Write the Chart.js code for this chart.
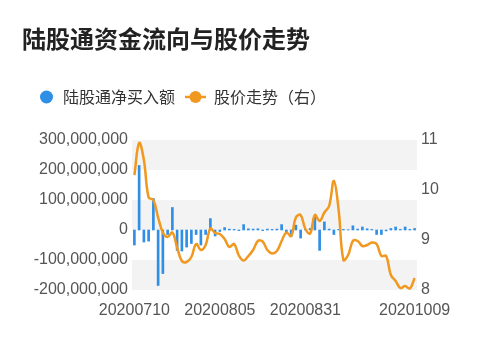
<!DOCTYPE html>
<html>
<head>
<meta charset="utf-8">
<script src="https://cdn.jsdelivr.net/npm/chart.js@4/dist/chart.umd.min.js"></script>
<style>
html,body{margin:0;padding:0;background:#fff;}
#wrap{width:500px;height:353px;position:relative;}
</style>
</head>
<body>
<div id="wrap"><canvas id="c" width="500" height="353"></canvas></div>
<script>
const categories = [
 '20200710','20200713','20200714','20200715','20200716','20200717','20200720','20200721','20200722','20200723','20200724','20200727','20200728','20200729','20200730','20200731',
 '20200803','20200804','20200805','20200806','20200807','20200810','20200811','20200812','20200813','20200814','20200817','20200818','20200819','20200820','20200821','20200824','20200825','20200826','20200827','20200828','20200831',
 '20200901','20200902','20200903','20200904','20200907','20200908','20200909','20200910','20200911','20200914','20200915','20200916','20200917','20200918','20200921','20200922','20200923','20200924','20200925','20200928','20200929','20200930',
 '20201009'
];
const tickLabels = ['20200710','20200805','20200831','20201009'];
const netBuy = [
 -50e6, 215e6, -40e6, -37e6, 105e6, -185e6, -145e6, -15e6, 75e6, -68e6,
 -70e6, -57e6, -45e6, -15e6, -50e6, -15e6, 38e6, -20e6, -5e6, 8e6,
 3e6, 2e6, -2e6, 18e6, 4e6, 3e6, 4e6, -2e6, 3e6, 2e6,
 3e6, 18e6, -12e6, -22e6, 16e6, -27e6, 2e6, 5e6, 45e6, -68e6,
 27e6, 3e6, -15e6, 2e6, 2e6, 1e6, 14e6, 3e6, 10e6, 4e6,
 2e6, -15e6, -15e6, -3e6, 5e6, 10e6, 2e6, 10e6, 2e6, 5e6
];
const price = [
 10.3, 10.94, 10.6, 9.85, 9.8, 9.45, 9.15, 9.06, 9.15, 8.85,
 8.58, 8.56, 8.66, 8.92, 8.8, 8.9, 9.23, 9.14, 9.12, 9.02,
 8.86, 8.92, 8.69, 8.59, 8.68, 8.8, 8.98, 8.97, 8.8, 8.73,
 8.78, 8.98, 9.15, 9.08, 9.45, 9.5, 9.22, 9.13, 9.5, 9.38,
 9.55, 9.68, 10.18, 9.6, 8.6, 8.7, 8.98, 8.98, 8.88, 8.9,
 8.95, 8.92, 8.68, 8.68, 8.3, 8.18, 8.04, 8.08, 8.03, 8.24
];
const leftTicks = [-200e6, -100e6, 0, 100e6, 200e6, 300e6];
const rightTicks = [8, 9, 10, 11];
const seriesNames = ['陆股通净买入额', '股价走势（右）'];
const titleText = '陆股通资金流向与股价走势';

const BLUE = '#2f8ee6';
const ORANGE = '#f0981f';
const CJK = '"Noto Sans CJK SC", "Noto Sans", sans-serif';
const NUM = '"Liberation Sans", Arial, sans-serif';

const bandPlugin = {
  id: 'bands',
  beforeDatasetsDraw(chart) {
    const y = chart.scales.y, area = chart.chartArea, ctx = chart.ctx;
    const vals = leftTicks.slice().sort((a,b)=>b-a);
    ctx.save();
    ctx.fillStyle = '#f3f3f3';
    for (let i = 0; i < vals.length - 1; i += 2) {
      const y1 = y.getPixelForValue(vals[i]);
      const y2 = y.getPixelForValue(vals[i+1]);
      ctx.fillRect(area.left, y1, area.right - area.left, y2 - y1);
    }
    ctx.restore();
  }
};

const legendPlugin = {
  id: 'customLegend',
  afterDraw(chart) {
    const ctx = chart.ctx;
    const cy = 97;
    ctx.save();
    ctx.font = '16px ' + CJK;
    ctx.textBaseline = 'middle';
    ctx.fillStyle = '#333';
    let x = 40;
    ctx.beginPath();
    ctx.fillStyle = BLUE;
    ctx.arc(x + 6.5, cy, 6.5, 0, Math.PI * 2);
    ctx.fill();
    x += 23;
    ctx.fillStyle = '#333';
    ctx.fillText(seriesNames[0], x, cy);
    x += ctx.measureText(seriesNames[0]).width + 10;
    ctx.strokeStyle = ORANGE;
    ctx.lineWidth = 2.5;
    ctx.beginPath();
    ctx.moveTo(x, cy); ctx.lineTo(x + 21, cy); ctx.stroke();
    ctx.beginPath();
    ctx.fillStyle = ORANGE;
    ctx.arc(x + 10.5, cy, 6, 0, Math.PI * 2);
    ctx.fill();
    x += 29;
    ctx.fillStyle = '#333';
    ctx.fillText(seriesNames[1], x, cy);
    ctx.restore();
  }
};

new Chart(document.getElementById('c'), {
  data: {
    labels: categories,
    datasets: [
      {
        type: 'line', label: seriesNames[1], data: price, yAxisID: 'y1',
        borderColor: ORANGE, backgroundColor: ORANGE, borderWidth: 2.5,
        pointRadius: 0, tension: 0.4, order: 0
      },
      {
        type: 'bar', label: seriesNames[0], data: netBuy, yAxisID: 'y',
        backgroundColor: BLUE, barThickness: 2, order: 1
      }
    ]
  },
  options: {
    responsive: false,
    animation: false,
    devicePixelRatio: 1,
    layout: { padding: { left: 22, right: 0, top: 0, bottom: 0 } },
    plugins: {
      legend: { display: false },
      tooltip: { enabled: false },
      title: {
        display: true, text: titleText, align: 'start', color: '#222',
        font: { family: CJK, size: 24, weight: 'bold' },
        padding: { top: 24, bottom: 87.2 }
      }
    },
    scales: {
      x: {
        grid: { display: false, drawTicks: false },
        border: { display: false },
        ticks: {
          autoSkip: false, maxRotation: 0, minRotation: 0, padding: 11,
          color: '#555', font: { family: NUM, size: 16 },
          callback(v, i) { const l = categories[i]; return tickLabels.includes(l) ? l : null; }
        },
        afterFit(s) { s.height = 63; }
      },
      y: {
        position: 'left', min: -200e6, max: 300e6,
        grid: { display: false, drawTicks: false },
        border: { display: false },
        ticks: {
          stepSize: 100e6, padding: 4, color: '#555', font: { family: NUM, size: 16 },
          callback(v) { return leftTicks.includes(v) ? v.toLocaleString('en-US') : null; }
        },
        afterFit(s) { s.width = 110; }
      },
      y1: {
        position: 'right', min: 8, max: 11,
        grid: { display: false, drawTicks: false },
        border: { display: false },
        ticks: {
          stepSize: 1, padding: 4, color: '#555', font: { family: NUM, size: 16 },
          callback(v) { return rightTicks.includes(v) ? String(v) : null; }
        },
        afterFit(s) { s.width = 83; }
      }
    }
  },
  plugins: [bandPlugin, legendPlugin]
});
</script>
</body>
</html>
